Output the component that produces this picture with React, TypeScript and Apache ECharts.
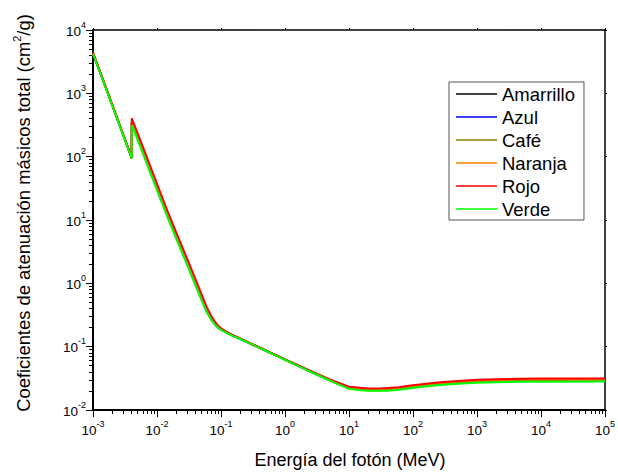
import React, { useEffect, useRef } from 'react';
import * as echarts from 'echarts';

// Photon energy (MeV)
const energy = [
  0.001, 0.0015, 0.002, 0.003, 0.00403, 0.00404, 0.005, 0.006, 0.008, 0.01,
  0.015, 0.02, 0.03, 0.04, 0.05, 0.06, 0.07, 0.08, 0.09, 0.1,
  0.125, 0.15, 0.2, 0.3, 0.4, 0.5, 0.6, 0.8, 1, 1.5,
  2, 3, 4, 5, 6, 8, 10, 15, 20, 30,
  40, 60, 80, 100, 150, 200, 300, 500, 1000, 2000,
  5000, 10000, 100000,
];

// Total mass attenuation coefficients (cm^2/g)
const amarrillo = [
  4290, 1427, 648, 213.5, 94.8, 340, 195, 121.5, 56.8, 31.6,
  11.0, 5.4, 2.01, 0.98, 0.567, 0.366, 0.278, 0.229, 0.202, 0.187,
  0.1655, 0.1507, 0.1329, 0.110, 0.0962, 0.0867, 0.0794, 0.0695, 0.0624, 0.0515,
  0.0451, 0.0373, 0.0327, 0.0296, 0.0273, 0.0243, 0.0222, 0.0212, 0.0208, 0.0207,
  0.0209, 0.0216, 0.0225, 0.0232, 0.0243, 0.0250, 0.0260, 0.0270, 0.0281, 0.0287,
  0.0291, 0.0292, 0.0293,
];
const azul = [
  4300, 1430, 649, 214, 95, 347, 199, 124, 58, 32.2,
  11.2, 5.5, 2.05, 1.0, 0.578, 0.372, 0.282, 0.232, 0.204, 0.188,
  0.166, 0.151, 0.133, 0.110, 0.0962, 0.0867, 0.0794, 0.0695, 0.0624, 0.0516,
  0.0452, 0.0374, 0.0328, 0.0297, 0.0275, 0.0245, 0.0224, 0.0214, 0.0210, 0.0209,
  0.0211, 0.0218, 0.0227, 0.0234, 0.0245, 0.0252, 0.0262, 0.0272, 0.0283, 0.0289,
  0.0293, 0.0294, 0.0295,
];
const cafe = [
  4265, 1420, 644, 212.5, 94.2, 330, 189, 118, 55.1, 30.6,
  10.65, 5.23, 1.95, 0.952, 0.551, 0.356, 0.272, 0.226, 0.2, 0.1855,
  0.1645, 0.1502, 0.1327, 0.1098, 0.0961, 0.0866, 0.0793, 0.0694, 0.0623, 0.0514,
  0.0450, 0.0372, 0.0326, 0.0294, 0.0271, 0.0241, 0.0220, 0.0209, 0.0205, 0.0204,
  0.0206, 0.0213, 0.0221, 0.0228, 0.0239, 0.0246, 0.0256, 0.0265, 0.0276, 0.0282,
  0.0286, 0.0287, 0.0288,
];
const naranja = [
  4340, 1445, 656, 216.5, 96.5, 373, 214, 133, 62.3, 34.6,
  12.0, 5.91, 2.2, 1.075, 0.620, 0.396, 0.296, 0.241, 0.210, 0.192,
  0.168, 0.1525, 0.1339, 0.1105, 0.0966, 0.0871, 0.0797, 0.0698, 0.0627, 0.0520,
  0.0456, 0.0377, 0.0332, 0.0301, 0.0280, 0.0250, 0.0229, 0.0220, 0.0216, 0.0215,
  0.0217, 0.0225, 0.0234, 0.0241, 0.0252, 0.0260, 0.0270, 0.0281, 0.0292, 0.0298,
  0.0302, 0.0303, 0.0304,
];
const rojo = [
  4386, 1459, 662, 218, 97.9, 404, 231, 144, 67.3, 37.3,
  12.9, 6.33, 2.36, 1.15, 0.659, 0.417, 0.307, 0.248, 0.214, 0.1955,
  0.170, 0.154, 0.1346, 0.1109, 0.0970, 0.0874, 0.0800, 0.0701, 0.0629, 0.0524,
  0.0459, 0.0380, 0.0335, 0.0303, 0.0283, 0.0254, 0.0233, 0.0224, 0.0219, 0.0218,
  0.0222, 0.0229, 0.0239, 0.0247, 0.0258, 0.0266, 0.0277, 0.0288, 0.0300, 0.0307,
  0.0312, 0.0313, 0.0314,
];
const verde = [
  4236, 1409, 639, 211, 93.6, 316, 182, 113.5, 53.1, 29.5,
  10.3, 5.06, 1.89, 0.92, 0.535, 0.350, 0.268, 0.224, 0.199, 0.1842,
  0.1635, 0.1495, 0.1323, 0.1095, 0.0957, 0.0863, 0.0790, 0.0692, 0.0621, 0.0511,
  0.0447, 0.0370, 0.0323, 0.0293, 0.0268, 0.0238, 0.0216, 0.0205, 0.0202, 0.0201,
  0.0202, 0.0209, 0.0217, 0.0223, 0.0234, 0.0241, 0.0250, 0.0259, 0.0269, 0.0275,
  0.0279, 0.0280, 0.0281,
];

const seriesNames = ['Amarrillo', 'Azul', 'Café', 'Naranja', 'Rojo', 'Verde'];
const seriesValues = [amarrillo, azul, cafe, naranja, rojo, verde];

const xAxisTitle = 'Energía del fotón (MeV)';
const yAxisTitleMain = 'Coeficientes de atenuación másicos total (cm';
const yAxisTitleSup = '2';
const yAxisTitleEnd = '/g)';

const X_MIN_EXP = -3;
const X_MAX_EXP = 5;
const Y_MIN_EXP = -2;
const Y_MAX_EXP = 4;

const FONT = '"Liberation Sans", Arial, Helvetica, sans-serif';
const COLORS = ['#000000', '#0000ff', '#808000', '#ff8000', '#ff0000', '#00ff00'];

// minor tick positions (log10 of 2..9 x 10^n) for helper linear axes
const minorLogTicks = (lo: number, hi: number) => {
  const out: number[] = [];
  for (let n = lo; n < hi; n++) {
    for (let k = 2; k <= 9; k++) out.push(n + Math.log10(k));
  }
  return out;
};

const supRich = {
  b: { fontSize: 13.5, lineHeight: 16, verticalAlign: 'bottom', fontFamily: FONT, color: '#000' },
  s: { fontSize: 9, lineHeight: 10, padding: [0, 0, 9, 0], verticalAlign: 'bottom', fontFamily: FONT, color: '#000' },
};
const powLabel = (v: number) => `{b|10}{s|${Math.round(Math.log10(v))}}`;

export default function App() {
  const ref = useRef<HTMLDivElement>(null);

  useEffect(() => {
    if (!ref.current) return;
    const chart = echarts.init(ref.current, undefined, { renderer: 'svg' });

    const axisLineMain = { show: true, onZero: false, lineStyle: { color: '#000', width: 2 } };
    const axisLineSide = { show: true, onZero: false, lineStyle: { color: '#000', width: 1.5 } };
    const tickStyle = { color: '#000', width: 1 };

    chart.setOption({
      animation: false,
      backgroundColor: '#fff',
      grid: { left: 93, right: 11, top: 30, bottom: 63 },
      legend: {
        show: true,
        orient: 'vertical',
        left: 449,
        top: 82,
        padding: [2, 9, 1, 7],
        itemWidth: 41,
        itemHeight: 1.5,
        itemGap: 3,
        icon: 'rect',
        borderColor: '#555',
        borderWidth: 1,
        backgroundColor: '#fff',
        textStyle: { fontFamily: FONT, fontSize: 18.5, lineHeight: 20, color: '#000' },
        data: seriesNames,
      },
      xAxis: [
        {
          type: 'log',
          logBase: 10,
          min: Math.pow(10, X_MIN_EXP),
          max: Math.pow(10, X_MAX_EXP),
          interval: 1,
          position: 'bottom',
          axisLine: axisLineMain,
          axisTick: { show: true, length: 7, inside: false, lineStyle: tickStyle },
          minorTick: { show: false },
          axisLabel: { margin: 11, formatter: powLabel, rich: supRich },
          splitLine: { show: false },
        },
        {
          type: 'log',
          logBase: 10,
          min: Math.pow(10, X_MIN_EXP),
          max: Math.pow(10, X_MAX_EXP),
          interval: 1,
          position: 'top',
          axisLine: axisLineSide,
          axisTick: { show: true, length: 2, lineStyle: tickStyle },
          axisLabel: { show: false },
          splitLine: { show: false },
        },
        {
          type: 'value',
          min: X_MIN_EXP,
          max: X_MAX_EXP,
          position: 'bottom',
          axisLine: { show: false, onZero: false },
          axisTick: { show: true, length: 4, lineStyle: tickStyle, customValues: minorLogTicks(X_MIN_EXP, X_MAX_EXP) },
          axisLabel: { show: false },
          splitLine: { show: false },
        },
      ],
      yAxis: [
        {
          type: 'log',
          logBase: 10,
          min: Math.pow(10, Y_MIN_EXP),
          max: Math.pow(10, Y_MAX_EXP),
          interval: 1,
          position: 'left',
          axisLine: axisLineMain,
          axisTick: { show: true, length: 7, inside: false, lineStyle: tickStyle },
          minorTick: { show: false },
          axisLabel: { margin: 7, formatter: powLabel, rich: supRich },
          splitLine: { show: false },
        },
        {
          type: 'log',
          logBase: 10,
          min: Math.pow(10, Y_MIN_EXP),
          max: Math.pow(10, Y_MAX_EXP),
          interval: 1,
          position: 'right',
          axisLine: axisLineSide,
          axisTick: { show: true, length: 2, lineStyle: tickStyle },
          axisLabel: { show: false },
          splitLine: { show: false },
        },
        {
          type: 'value',
          min: Y_MIN_EXP,
          max: Y_MAX_EXP,
          position: 'left',
          axisLine: { show: false, onZero: false },
          axisTick: { show: true, length: 4, lineStyle: tickStyle, customValues: minorLogTicks(Y_MIN_EXP, Y_MAX_EXP) },
          axisLabel: { show: false },
          splitLine: { show: false },
        },
      ],
      series: seriesNames.map((name, k) => ({
        name,
        type: 'line',
        xAxisIndex: 0,
        yAxisIndex: 0,
        showSymbol: false,
        symbol: 'none',
        smooth: false,
        color: COLORS[k],
        lineStyle: { color: COLORS[k], width: 2 },
        data: energy.map((e, i) => [e, seriesValues[k][i]]),
        z: 2 + k,
      })),
      graphic: [
        {
          type: 'text',
          x: 350,
          y: 460,
          style: {
            text: xAxisTitle,
            fontFamily: FONT,
            fontSize: 18,
            fill: '#000',
            align: 'center',
            verticalAlign: 'middle',
          },
        },
        {
          type: 'text',
          x: 21,
          y: 213,
          rotation: Math.PI / 2,
          style: {
            text: `{a|${yAxisTitleMain}}{s|${yAxisTitleSup}}{a|${yAxisTitleEnd}}`,
            align: 'center',
            verticalAlign: 'middle',
            rich: {
              a: { fontFamily: FONT, fontSize: 18.4, lineHeight: 22, verticalAlign: 'bottom', fill: '#000', color: '#000' },
              s: { fontFamily: FONT, fontSize: 11, lineHeight: 12, padding: [0, 0, 10, 0], verticalAlign: 'bottom', fill: '#000', color: '#000' },
            },
          },
        },
      ],
    });

    return () => {
      chart.dispose();
    };
  }, []);

  return (
    <div
      ref={ref}
      style={{ position: 'fixed', left: 0, top: 0, width: 618, height: 473, background: '#fff' }}
    />
  );
}
